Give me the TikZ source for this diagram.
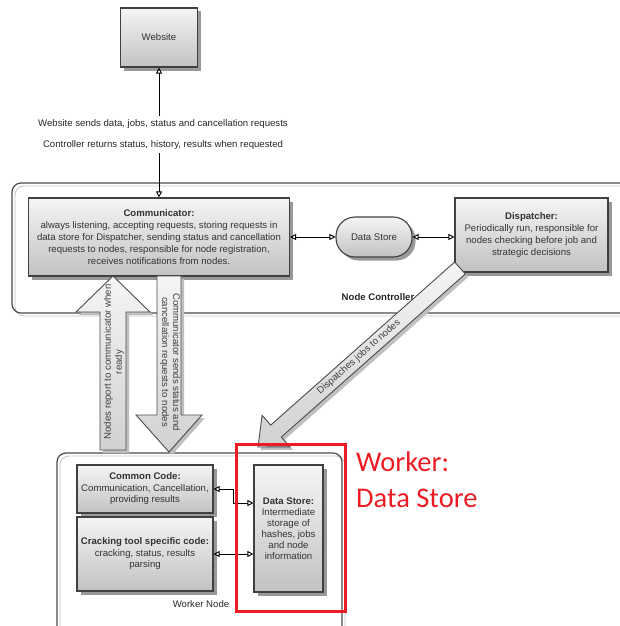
\documentclass[tikz,border=0pt]{standalone}
\usepackage{fontspec}
\setmainfont{Liberation Sans}
\newfontfamily\redfont{Carlito}
\usetikzlibrary{arrows.meta,shadows}
\definecolor{hl}{HTML}{ED1C24}

\begin{document}
\begin{tikzpicture}[x=1pt,y=-1pt]
		\tikzstyle{box}=[draw=black!75,line width=1.1pt,top color=black!4,bottom color=black!24,
			drop shadow={shadow xshift=3.5pt,shadow yshift=-3.5pt,fill=black!40,opacity=1},
			text=black!80,align=center,font=\fontsize{9.6}{12}\selectfont,inner sep=2pt]
		\tikzstyle{frame}=[draw=black!70,line width=1.2pt,rounded corners=9pt]
		\tikzstyle{frameshade}=[draw=black!22,line width=0.9pt,rounded corners=9pt]
		\tikzstyle{link}=[line width=0.9pt,{Triangle[open,length=6pt,width=6pt]}-{Triangle[open,length=6pt,width=6pt]}]
		\tikzstyle{big}=[draw=black!70,line width=0.9pt,top color=black!4,bottom color=black!18,
			drop shadow={shadow xshift=3pt,shadow yshift=-3pt,fill=black!25,opacity=1}]
		\tikzstyle{bigtext}=[text=black!75,align=center,font=\fontsize{9.6}{11}\selectfont,inner sep=1pt]
		\tikzstyle{lbl}=[font=\fontsize{9.6}{12}\selectfont,text=black!85]
		\useasboundingbox (0,0) rectangle (619,626);

		% containers
		\draw[frameshade] (15,186) rectangle (660,316);
		\draw[frame] (12,183) rectangle (657,313);
		\draw[frameshade] (60,456) rectangle (345,680);
		\draw[frame] (57,453) rectangle (342,677);
		\node[lbl,font=\bfseries\fontsize{9.6}{12}\selectfont] (ctrllabel) at (378,297) {Node Controller};
		\node[lbl] (workerlabel) at (201,604) {Worker Node};

		% node controller
		\node[box,minimum width=77pt,minimum height=59pt] (website) at (159,37.5) {Website};
		\node[box,minimum width=261pt,minimum height=78pt] (comm) at (159,237) {\textbf{Communicator:}\\always listening, accepting requests, storing requests in\\data store for Dispatcher, sending status and cancellation\\requests to nodes, responsible for node registration,\\receives notifications from nodes.};
		\node[box,rounded corners=19pt,minimum width=76pt,minimum height=40pt] (dstore) at (374,237) {Data Store};
		\node[box,minimum width=153pt,minimum height=74pt] (disp) at (531.5,235) {\textbf{Dispatcher:}\\Periodically run, responsible for\\nodes checking before job and\\strategic decisions};

		% worker node
		\node[box,minimum width=136pt,minimum height=48pt,font=\fontsize{9.6}{11.5}\selectfont] (common) at (145,489) {\textbf{Common Code:}\\Communication, Cancellation,\\providing results};
		\node[box,minimum width=136pt,minimum height=74pt,font=\fontsize{9.6}{11.5}\selectfont] (crack) at (145,554) {\textbf{Cracking tool specific code:}\\cracking, status, results\\parsing};
		\node[box,minimum width=69pt,minimum height=127pt,font=\fontsize{9.6}{11}\selectfont] (wstore) at (288.5,528.5) {\textbf{Data Store:}\\Intermediate\\storage of\\hashes, jobs\\and node\\information};

		\draw[link] (comm) -- (website)
			node[midway,fill=white,xshift=4pt,yshift=-2pt,align=center,font=\fontsize{9.6}{21}\selectfont,text=black!85]
			{Website sends data, jobs, status and cancellation requests\\Controller returns status, history, results when requested};
		\draw[link] (comm) -- (dstore);
		\draw[link] (dstore.east) -- (dstore.east -| disp.west);
		\draw[link] (common.east) -- ++(20,0) |- ([yshift=25.5pt]wstore.west);
		\draw[link] (crack.east) -- (crack.east -| wstore.west);

		% block arrows
		\draw[big] (100,450) -- (100,312) -- (76,312) -- (113,276) -- (150,312) -- (126,312) -- (126,450) -- cycle;
		\node[bigtext,rotate=90] (uptext) at (114,362) {Nodes report to communicator when\\ready};
		\draw[big] (157,276) -- (157,415) -- (136,415) -- (169,452) -- (202,415) -- (181,415) -- (181,276) -- cycle;
		\node[bigtext,rotate=-90] (downtext) at (170,362) {Communicator sends status and\\cancellation requests to nodes};
		\draw[big] (465.3,274.0) -- (281.3,437.1) -- (289.9,446.8) -- (258,447) -- (262.1,415.4) -- (270.7,425.1) -- (454.7,262.0) -- cycle;
		\node[bigtext,rotate=41.5] (diagtext) at (359,357) {Dispatches jobs to nodes};

		% highlight
		\draw[hl,line width=3pt] (236,444) rectangle (345,611);
		\node[anchor=north west,inner sep=0pt,text=hl,align=left,font=\redfont\fontsize{28.5}{36}\selectfont] (redlabel) at (356,452) {Worker:\\Data Store};
\end{tikzpicture}
\end{document}
